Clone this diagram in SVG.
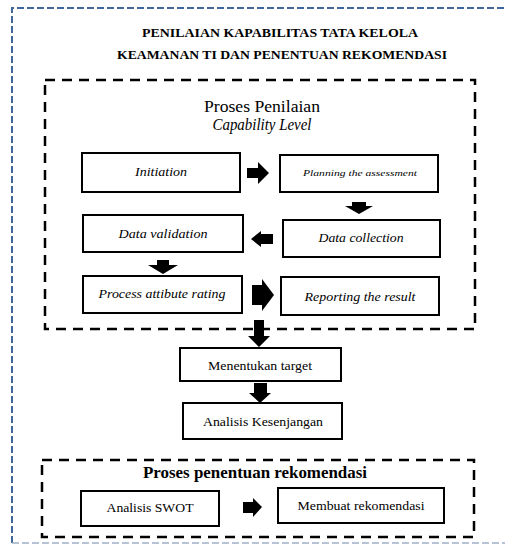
<svg xmlns="http://www.w3.org/2000/svg" width="505" height="550" viewBox="0 0 505 550">
  <style>
    .serif { font-family: "Liberation Serif", "Times New Roman", serif; fill: #000; }
    .it { font-style: italic; }
    .box { fill: #fff; stroke: #000; stroke-width: 2; }
    .group { fill: none; stroke: #000; stroke-width: 2.5; stroke-dasharray: 10 7; }
    .arrow { fill: #000; stroke: none; }
  </style>
  <rect width="505" height="550" fill="#fff"/>

  <g id="outer-frame">
    <path d="M12,543 V8 H505" fill="none" stroke="#41679a" stroke-width="2" stroke-dasharray="7 3"/>
    <path d="M12,543 H505" fill="none" stroke="#9fb0c6" stroke-width="1.5" stroke-dasharray="7 3"/>
  </g>

  <g id="title">
    <text class="serif" x="280" y="37" font-size="12" font-weight="bold" text-anchor="middle" textLength="276" lengthAdjust="spacingAndGlyphs">PENILAIAN KAPABILITAS TATA KELOLA</text>
    <text class="serif" x="282" y="59" font-size="12" font-weight="bold" text-anchor="middle" textLength="330" lengthAdjust="spacingAndGlyphs">KEAMANAN TI DAN PENENTUAN REKOMENDASI</text>
  </g>

  <g id="group-capability">
    <rect class="group" x="45" y="80" width="430" height="249"/>
    <text class="serif" x="262" y="112" font-size="16" text-anchor="middle" textLength="116" lengthAdjust="spacingAndGlyphs">Proses Penilaian</text>
    <text class="serif it" x="262" y="130" font-size="16" text-anchor="middle" textLength="99" lengthAdjust="spacingAndGlyphs">Capability Level</text>
  </g>

  <g id="node-initiation">
    <rect class="box" x="82" y="153" width="158" height="39"/>
    <text class="serif it" x="161" y="176" font-size="13" text-anchor="middle" textLength="52" lengthAdjust="spacingAndGlyphs">Initiation</text>
  </g>
  <g id="node-planning">
    <rect class="box" x="280" y="155" width="158" height="37"/>
    <text class="serif it" x="360" y="176" font-size="9" text-anchor="middle" textLength="114" lengthAdjust="spacingAndGlyphs">Planning  the assessment</text>
  </g>
  <g id="node-data-collection">
    <rect class="box" x="283" y="220" width="157" height="37"/>
    <text class="serif it" x="361" y="242" font-size="13" text-anchor="middle" textLength="85" lengthAdjust="spacingAndGlyphs">Data collection</text>
  </g>
  <g id="node-data-validation">
    <rect class="box" x="83" y="215" width="160" height="37"/>
    <text class="serif it" x="163" y="238" font-size="13" text-anchor="middle" textLength="89" lengthAdjust="spacingAndGlyphs">Data validation</text>
  </g>
  <g id="node-process-rating">
    <rect class="box" x="83" y="276" width="159" height="37"/>
    <text class="serif it" x="162" y="298" font-size="13" text-anchor="middle" textLength="127" lengthAdjust="spacingAndGlyphs">Process attibute rating</text>
  </g>
  <g id="node-reporting">
    <rect class="box" x="281" y="277" width="158" height="38"/>
    <text class="serif it" x="360" y="301" font-size="13" text-anchor="middle" textLength="111" lengthAdjust="spacingAndGlyphs">Reporting the result</text>
  </g>

  <g id="node-menentukan-target">
    <rect class="box" x="180" y="348" width="161" height="33"/>
    <text class="serif" x="260" y="370" font-size="12" text-anchor="middle" textLength="104" lengthAdjust="spacingAndGlyphs">Menentukan target</text>
  </g>
  <g id="node-analisis-kesenjangan">
    <rect class="box" x="183" y="403" width="159" height="36"/>
    <text class="serif" x="263" y="426" font-size="12" text-anchor="middle" textLength="120" lengthAdjust="spacingAndGlyphs">Analisis Kesenjangan</text>
  </g>

  <g id="group-rekomendasi">
    <rect class="group" x="42" y="460" width="432" height="77"/>
    <text class="serif" x="255" y="478" font-size="16" font-weight="bold" text-anchor="middle" textLength="224" lengthAdjust="spacingAndGlyphs">Proses penentuan rekomendasi</text>
  </g>
  <g id="node-swot">
    <rect class="box" x="81" y="491" width="138" height="35"/>
    <text class="serif" x="150" y="512" font-size="12" text-anchor="middle" textLength="87" lengthAdjust="spacingAndGlyphs">Analisis SWOT</text>
  </g>
  <g id="node-membuat-rekomendasi">
    <rect class="box" x="278" y="488" width="166" height="35"/>
    <text class="serif" x="361" y="510" font-size="12" text-anchor="middle" textLength="127" lengthAdjust="spacingAndGlyphs">Membuat rekomendasi</text>
  </g>

  <g id="connectors">
    <polygon class="arrow" points="247,168 258,168 258,162 269,173 258,184 258,178 247,178"/>
    <polygon class="arrow" points="352,202 366,202 366,206 373,206 359,214 345,206 352,206"/>
    <polygon class="arrow" points="273,234 261,234 261,231 251,239 261,247 261,244 273,244"/>
    <polygon class="arrow" points="157,260 169,260 169,265 178,265 163,274 148,265 157,265"/>
    <polygon class="arrow" points="252,285 262,285 262,279 274,295 262,311 262,305 252,305"/>
    <polygon class="arrow" points="254,320 264,320 264,336 270,336 259,347 248,336 254,336"/>
    <polygon class="arrow" points="254,383 267,383 267,393 271,393 260,403 249,393 254,393"/>
    <polygon class="arrow" points="243,502 253,502 253,498 262,507 253,517 253,513 243,513"/>
  </g>
</svg>
